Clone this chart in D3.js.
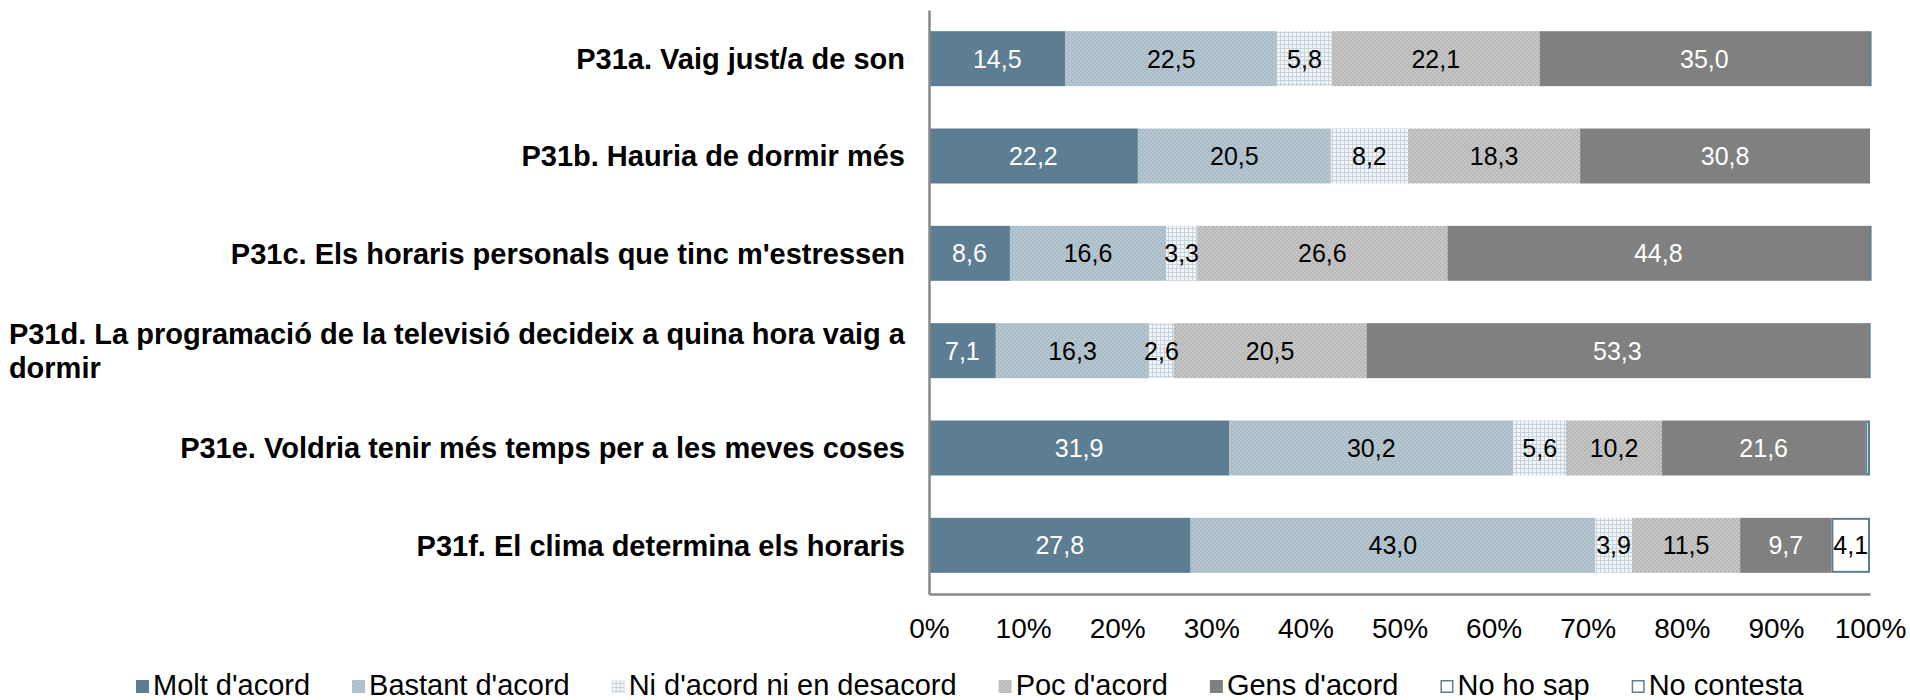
<!DOCTYPE html>
<html>
<head>
<meta charset="utf-8">
<script src="https://cdn.jsdelivr.net/npm/d3@7"></script>
<style>
  body { margin: 0; background: #fff; }
  svg text { font-family: "Liberation Sans", Arial, sans-serif; }
</style>
</head>
<body>
<svg id="chart" width="1910" height="700"></svg>
<script>
// Survey items (P31a–P31f) and answer distribution in percent
const categories = [
  "P31a. Vaig just/a de son",
  "P31b. Hauria de dormir més",
  "P31c. Els horaris personals que tinc m'estressen",
  "P31d. La programació de la televisió decideix a quina hora vaig a dormir",
  "P31e. Voldria tenir més temps per a les meves coses",
  "P31f. El clima determina els horaris"
];
const seriesNames = ["Molt d'acord", "Bastant d'acord", "Ni d'acord ni en desacord",
                     "Poc d'acord", "Gens d'acord", "No ho sap", "No contesta"];
const moltDacord    = [14.5, 22.2,  8.6,  7.1, 31.9, 27.8];
const bastantDacord = [22.5, 20.5, 16.6, 16.3, 30.2, 43.0];
const niDacord      = [ 5.8,  8.2,  3.3,  2.6,  5.6,  3.9];
const pocDacord     = [22.1, 18.3, 26.6, 20.5, 10.2, 11.5];
const gensDacord    = [35.0, 30.8, 44.8, 53.3, 21.6,  9.7];
const noHoSap       = [ 0.1,  0.0,  0.1,  0.2,  0.5,  4.1];
const noContesta    = [ 0.0,  0.0,  0.0,  0.0,  0.0,  0.0];
const xTicks = [0, 10, 20, 30, 40, 50, 60, 70, 80, 90, 100];

const seriesValues = [moltDacord, bastantDacord, niDacord, pocDacord, gensDacord, noHoSap, noContesta];
const rows = categories.map((c, i) => {
  const r = { category: c };
  seriesNames.forEach((s, k) => { r[s] = seriesValues[k][i]; });
  return r;
});

const svg = d3.select("#chart");
const defs = svg.append("defs");

// Fill patterns for the textured series
function checker(id, a, b) {
  const p = defs.append("pattern").attr("id", id).attr("patternUnits", "userSpaceOnUse")
    .attr("width", 4).attr("height", 4);
  p.append("rect").attr("width", 4).attr("height", 4).attr("fill", a);
  p.append("rect").attr("width", 2).attr("height", 2).attr("fill", b);
  p.append("rect").attr("x", 2).attr("y", 2).attr("width", 2).attr("height", 2).attr("fill", b);
}
checker("patBastant", "#a9bcc7", "#b6c6cf");
checker("patPoc", "#b8b8b8", "#c6c6c6");
{
  const p = defs.append("pattern").attr("id", "patNi").attr("patternUnits", "userSpaceOnUse")
    .attr("width", 4).attr("height", 4);
  p.append("rect").attr("width", 4).attr("height", 4).attr("fill", "#f2f5f7");
  p.append("rect").attr("width", 1).attr("height", 4).attr("fill", "#c6d3da");
  p.append("rect").attr("width", 4).attr("height", 1).attr("fill", "#c6d3da");
}

const style = {
  "Molt d'acord":              { fill: "#5d7e92", stroke: "none", text: "#ffffff" },
  "Bastant d'acord":           { fill: "url(#patBastant)", stroke: "none", text: "#000000" },
  "Ni d'acord ni en desacord": { fill: "url(#patNi)", stroke: "none", text: "#000000" },
  "Poc d'acord":               { fill: "url(#patPoc)", stroke: "none", text: "#000000" },
  "Gens d'acord":              { fill: "#808080", stroke: "none", text: "#ffffff" },
  "No ho sap":                 { fill: "#ffffff", stroke: "#5d7e92", text: "#000000" },
  "No contesta":               { fill: "#ffffff", stroke: "#5d7e92", text: "#000000" }
};

const plot = { left: 929, right: 1870, top: 10, bottom: 594 };
const x = d3.scaleLinear().domain([0, 100]).range([plot.left, plot.right]);
const y = d3.scaleBand().domain(categories).range([plot.top, plot.bottom])
  .paddingInner(0.435).paddingOuter(0.2175);

const stack = d3.stack().keys(seriesNames);
const layers = stack(rows);
const fmt = v => d3.format(".1f")(v).replace(".", ",");

const gBars = svg.append("g");
layers.forEach(layer => {
  const st = style[layer.key];
  const outlined = st.stroke !== "none";
  gBars.append("g").selectAll("rect").data(layer.filter(d => d[1] - d[0] > 0)).join("rect")
    .attr("x", d => x(d[0]) + (outlined ? 1 : 0))
    .attr("y", d => y(d.data.category) + (outlined ? 1 : 0))
    .attr("width", d => Math.max(0.5, x(d[1]) - x(d[0]) - (outlined ? 2 : 0)))
    .attr("height", y.bandwidth() - (outlined ? 2 : 0))
    .attr("fill", st.fill)
    .attr("stroke", st.stroke)
    .attr("stroke-width", outlined ? 2 : 0);
});

// Value labels centred in each segment
layers.forEach(layer => {
  const st = style[layer.key];
  gBars.append("g").selectAll("text").data(layer.filter(d => d[1] - d[0] >= 1)).join("text")
    .attr("x", d => (x(d[0]) + x(d[1])) / 2)
    .attr("y", d => y(d.data.category) + y.bandwidth() / 2)
    .attr("dy", "0.36em")
    .attr("text-anchor", "middle")
    .attr("font-size", 25)
    .attr("fill", st.text)
    .text(d => fmt(d[1] - d[0]));
});

// Axes
const axisColor = "#878787";
const xAxis = svg.append("g").attr("transform", `translate(0,${plot.bottom})`)
  .call(d3.axisBottom(x).tickValues(xTicks).tickSize(0).tickPadding(24).tickFormat(d => d + "%"));
xAxis.select(".domain").attr("stroke", axisColor).attr("stroke-width", 2.5);
xAxis.selectAll("text").attr("font-size", 28).attr("fill", "#000")
  .style("font-family", '"Liberation Sans", Arial, sans-serif');

const yAxis = svg.append("g").attr("transform", `translate(${plot.left},0)`)
  .call(d3.axisLeft(y).tickSize(0).tickFormat(""));
yAxis.select(".domain").attr("stroke", axisColor).attr("stroke-width", 2.5);
yAxis.selectAll(".tick text").remove();

// Category labels: right-aligned block, wrapped, lines left-aligned inside it
const labelRight = 905, maxWidth = 900, lineH = 34, catSize = 29;
const gCat = svg.append("g");
categories.forEach(c => {
  const t = gCat.append("text").attr("font-size", catSize).attr("font-weight", "bold").attr("fill", "#000");
  const words = c.split(" ");
  const lines = [];
  let cur = [];
  const probe = t.append("tspan");
  words.forEach(w => {
    probe.text([...cur, w].join(" "));
    if (cur.length && probe.node().getComputedTextLength() > maxWidth) {
      lines.push(cur.join(" "));
      cur = [w];
    } else cur.push(w);
  });
  lines.push(cur.join(" "));
  probe.remove();
  const widths = lines.map(l => {
    const p = t.append("tspan").text(l);
    const w = p.node().getComputedTextLength();
    p.remove();
    return w;
  });
  const blockW = d3.max(widths);
  const cy = y(c) + y.bandwidth() / 2;
  const y0 = cy - (lines.length - 1) * lineH / 2;
  lines.forEach((l, i) => {
    t.append("tspan")
      .attr("x", lines.length > 1 ? labelRight - blockW : labelRight)
      .attr("text-anchor", lines.length > 1 ? "start" : "end")
      .attr("y", y0 + i * lineH).attr("dy", "0.36em").text(l);
  });
});

// Legend: one row along the bottom
const legendSize = 29, marker = 13, markerGap = 4, itemGap = 42;
const legendLeft = 136, legendBaseline = 695;
const gLeg = svg.append("g");
let cx = legendLeft;
seriesNames.forEach(n => {
  const st = style[n];
  const g = gLeg.append("g").attr("transform", `translate(${cx},${legendBaseline})`);
  const outlined = st.stroke !== "none";
  g.append("rect")
    .attr("x", outlined ? 0.75 : 0).attr("y", -15 + (outlined ? 0.75 : 0))
    .attr("width", marker - (outlined ? 1.5 : 0)).attr("height", marker - (outlined ? 1.5 : 0))
    .attr("fill", st.fill)
    .attr("stroke", outlined ? st.stroke : "none")
    .attr("stroke-width", outlined ? 1.5 : 0);
  const txt = g.append("text").attr("x", marker + markerGap)
    .attr("font-size", legendSize).attr("fill", "#000").text(n);
  cx += marker + markerGap + txt.node().getComputedTextLength() + itemGap;
});
</script>
</body>
</html>
